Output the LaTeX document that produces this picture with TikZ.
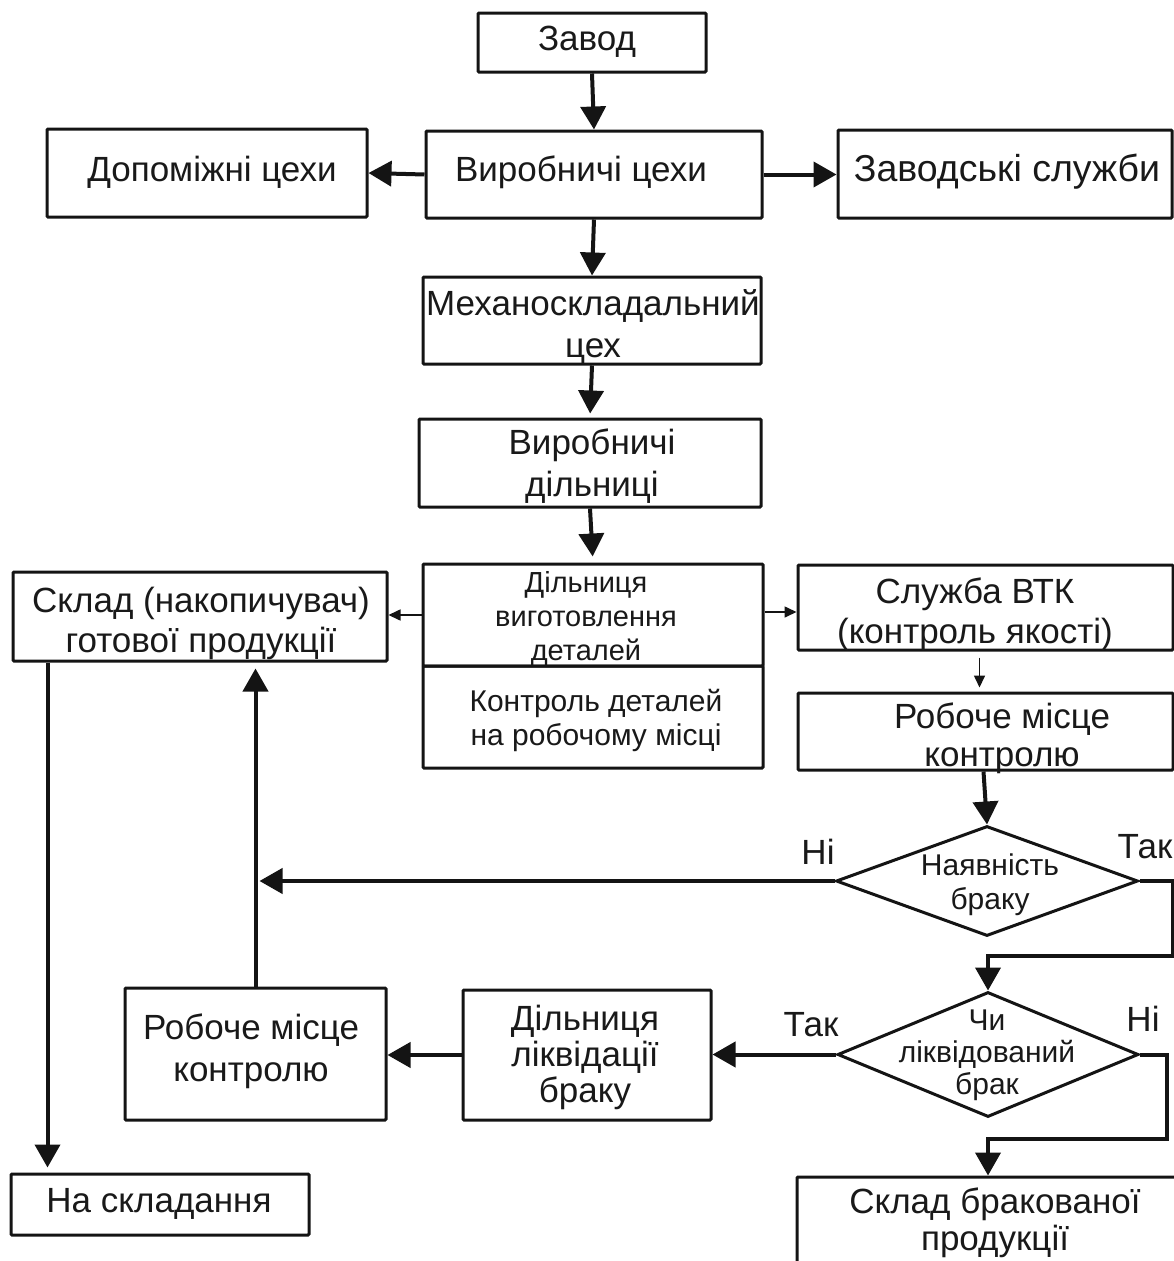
\documentclass[tikz,border=0pt]{standalone}
\usepackage{fontspec}
\setmainfont{Liberation Sans}
\usetikzlibrary{arrows.meta,shapes.geometric}
\begin{document}
\begin{tikzpicture}[x=1pt,y=-1pt,
  box/.style={draw=black!92, line width=3pt, rectangle, rounded corners=1pt, inner sep=0pt},
  dia/.style={draw=black!92, line width=3pt, diamond, inner sep=0pt},
  txt/.style={align=center, inner sep=0pt, text=black!90},
  big/.style={font=\fontsize{35}{42}\selectfont},
  mid/.style={font=\fontsize{30}{34}\selectfont},
  sml/.style={font=\fontsize{29}{34}\selectfont},
  arrthick/.style={draw=black!92, line width=4pt, -{Triangle[length=23pt,width=25pt]}},
  arrthin/.style={draw=black!92, line width=1.6pt, -{Triangle[length=12pt,width=11pt]}},
  conn/.style={draw=black!92, line width=3pt}
]
\useasboundingbox (0,0) rectangle (1174,1261);
\clip (0,0) rectangle (1174,1261);
\fill[white] (0,0) rectangle (1174,1261);

% boxes
\node[box, minimum width=228pt, minimum height=59pt] (zavod) at (592,42.5) {};
\node[box, minimum width=336pt, minimum height=87pt] (vc) at (594,174.5) {};
\node[box, minimum width=320pt, minimum height=88pt] (dop) at (207,173) {};
\node[box, minimum width=334pt, minimum height=88pt] (zs) at (1005,174) {};
\node[box, minimum width=338pt, minimum height=87pt] (mex) at (592,320.5) {};
\node[box, minimum width=342pt, minimum height=88pt] (vd) at (590,463) {};
\node[box, minimum width=340pt, minimum height=102pt] (dvd) at (593,615) {};
\node[box, minimum width=340pt, minimum height=102pt] (kd) at (593,717) {};
\node[box, minimum width=374pt, minimum height=89pt] (sklad) at (200,616.5) {};
\node[box, minimum width=375pt, minimum height=85pt] (vtk) at (985.5,607.5) {};
\node[box, minimum width=375pt, minimum height=77pt] (rmk) at (985.5,731.5) {};
\node[dia, minimum width=302pt, minimum height=110pt] (nb) at (987,881) {};
\node[dia, minimum width=301pt, minimum height=125pt] (chl) at (988,1054.5) {};
\node[box, minimum width=248pt, minimum height=130pt] (dlb) at (587,1055) {};
\node[box, minimum width=261pt, minimum height=132pt] (rml) at (255.5,1054) {};
\node[box, minimum width=298pt, minimum height=61pt] (na) at (160,1204.5) {};
\node[box, minimum width=400pt, minimum height=120pt] (sbp) at (997,1237) {};

% texts
\node[txt, big] (t-zavod) at (587,42) {Завод};
\node[txt, big] (t-vc) at (581,172) {Виробничі цехи};
\node[txt, big] (t-dop) at (212,172) {Допоміжні цехи};
\node[txt, font=\fontsize{37.5}{42}\selectfont] (t-zs) at (1007,172) {Заводські служби};
\node[txt, big] (t-mex) at (593,327) {Механоскладальний\\цех};
\node[txt, big] (t-vd) at (592,466) {Виробничі\\дільниці};
\node[txt, sml] (t-dvd) at (586,619) {Дільниця\\виготовлення\\деталей};
\node[txt, mid] (t-kd) at (596,720) {Контроль деталей\\на робочому місці};
\node[txt, font=\fontsize{35}{40}\selectfont] (t-sklad) at (201,623) {Склад (накопичувач)\\готової продукції};
\node[txt, font=\fontsize{35}{40}\selectfont] (t-vtk) at (975,614) {Служба ВТК\\(контроль якості)};
\node[txt, font=\fontsize{35}{38}\selectfont] (t-rmk) at (1002,738) {Робоче місце\\контролю};
\node[txt, mid] (t-nb) at (990,885) {Наявність\\браку};
\node[txt, font=\fontsize{30}{32}\selectfont] (t-chl) at (987,1055) {Чи\\ліквідований\\брак};
\node[txt, font=\fontsize{35}{36}\selectfont] (t-dlb) at (585,1057) {Дільниця\\ліквідації\\браку};
\node[txt, font=\fontsize{35}{42}\selectfont] (t-rml) at (251,1051) {Робоче місце\\контролю};
\node[txt, big] (t-na) at (159,1204) {На складання};
\node[txt, font=\fontsize{35}{37}\selectfont] (t-sbp) at (995,1223) {Склад бракованої\\продукції};
\node[txt, big] (l-ni1) at (818,852) {Ні};
\node[txt, big] (l-tak1) at (1145,847) {Так};
\node[txt, big] (l-tak2) at (811,1025) {Так};
\node[txt, big] (l-ni2) at (1143,1019) {Ні};

% connectors
\draw[arrthick] (zavod.south) -- (vc.north);
\draw[arrthick] (vc.south) -- (mex.north);
\draw[arrthick, shorten >=4pt] (mex.south) -- (vd.north);
\draw[arrthick, shorten >=6pt] (vd.south) -- (dvd.north);
\draw[arrthick] (vc.west) -- (dop.east);
\draw[arrthick] (vc.east) -- (vc.east -| zs.west);
\draw[arrthin] (dvd.west) -- (dvd.west -| sklad.east);
\draw[arrthin] ([yshift=3pt]dvd.east) -- ([yshift=3pt]dvd.east -| vtk.west);
\draw[arrthin, shorten <=6pt, shorten >=4pt] ([xshift=-6pt]vtk.south) -- ([xshift=-6pt]rmk.north);
\draw[arrthick] ([xshift=-2pt]rmk.south) -- (nb.north);
\draw[arrthick, shorten >=4pt] (nb.west) -- (nb.west -| rml.north);
\draw[arrthick, shorten >=6pt] (rml.north) -- (rml.north |- sklad.south);
\draw[arrthick, shorten >=5pt] ([xshift=36pt]sklad.south west) -- ([xshift=36pt]sklad.south west |- na.north);
\draw[conn, arrthick] (nb.east) -- ++(33,0) -- ++(0,75) -| (chl.north);
\draw[arrthick] (chl.west) -- (chl.west -| dlb.east);
\draw[arrthick] (dlb.west) -- (dlb.west -| rml.east);
\draw[arrthick] (chl.east) -- ++(27,0) -- ++(0,84) -| ([xshift=-9pt]sbp.north);
\end{tikzpicture}
\end{document}
